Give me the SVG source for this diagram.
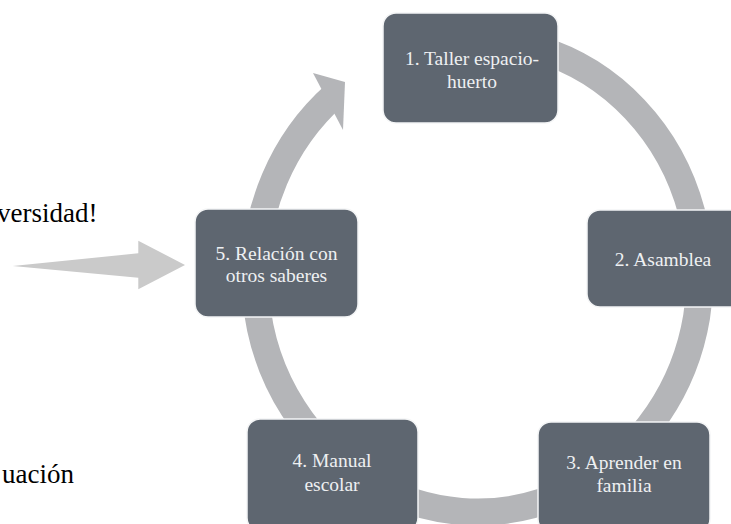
<svg xmlns="http://www.w3.org/2000/svg" width="731" height="524" viewBox="0 0 731 524">
  <style>
    .node rect { fill: #5e6670; stroke: #f4f5f6; stroke-width: 1.5; }
    .node text { font-family: "Liberation Serif", "Times New Roman", serif; font-size: 19.5px; fill: #eef0f2; text-anchor: middle; }
    .ring { fill: none; stroke: #b4b5b8; stroke-width: 27; }
    .head { fill: #b4b5b8; }
    .side { font-family: "Liberation Serif", "Times New Roman", serif; font-size: 27px; fill: #000; text-anchor: end; }
  </style>
  <rect width="731" height="524" fill="#ffffff"/>

  <g id="side-texts">
    <text class="side" x="97.5" y="222">versidad!</text>
    <text class="side" x="74" y="483">uación</text>
  </g>

  <g id="connectors">
    <polygon id="big-arrow" points="12.7,266 138.3,253.3 138.3,240.7 185,265 138.3,289.3 138.3,277.7" fill="#cacaca"/>
    <path class="ring" d="M 438.9 43.6 A 222.5 236 0 1 1 334.5 95.2"/>
    <polygon class="head" points="313,73 345,82 343,130"/>
  </g>

  <g id="node1" class="node">
    <rect x="383" y="13" width="175" height="110" rx="13"/>
    <text x="472" y="65">1. Taller espacio-</text>
    <text x="472" y="87.5">huerto</text>
  </g>
  <g id="node2" class="node">
    <rect x="587" y="210" width="160" height="97" rx="13"/>
    <text x="663" y="266">2. Asamblea</text>
  </g>
  <g id="node3" class="node">
    <rect x="538" y="422" width="172" height="110" rx="13"/>
    <text x="624" y="469">3. Aprender en</text>
    <text x="624" y="491.5">familia</text>
  </g>
  <g id="node4" class="node">
    <rect x="247" y="419" width="171" height="112" rx="13"/>
    <text x="332" y="467">4. Manual</text>
    <text x="332" y="490.5">escolar</text>
  </g>
  <g id="node5" class="node">
    <rect x="195" y="209" width="163" height="108" rx="13"/>
    <text x="276.5" y="260">5. Relación con</text>
    <text x="276.5" y="282">otros saberes</text>
  </g>
</svg>
